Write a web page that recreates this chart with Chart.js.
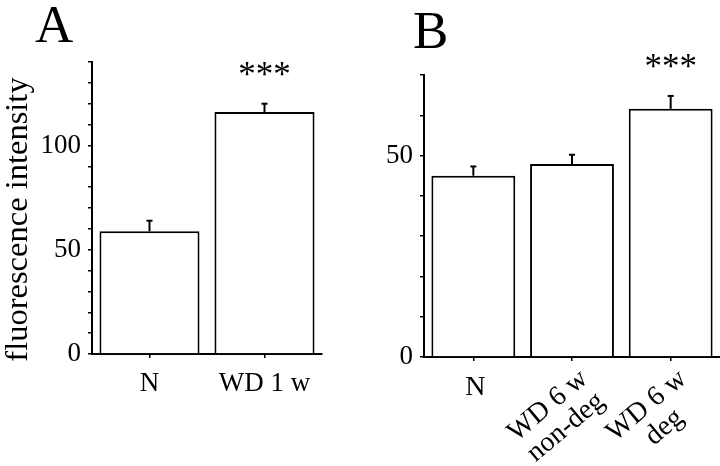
<!DOCTYPE html>
<html><head><meta charset="utf-8">
<script src="https://cdn.jsdelivr.net/npm/chart.js@4.4.1/dist/chart.umd.min.js"></script>
<style>
html,body{margin:0;padding:0;background:#fff;width:720px;height:466px;overflow:hidden}
canvas{position:absolute;top:0}
#cA{left:0}
#cB{left:360px}
</style></head>
<body>
<canvas id="cA" width="360" height="466"></canvas>
<canvas id="cB" width="360" height="466"></canvas>
<script>
// ---- data ----
const categoriesA = ['N', 'WD 1 w'];
const valuesA = [58.8, 116];
const errorsA = [5.1, 4];
const marksA = ['', '***'];
const yLabelsA = [0, 50, 100];
const yMaxA = 140;

const categoriesB = [['N'], ['WD 6 w', 'non-deg'], ['WD 6 w', 'deg']];
const valuesB = [45, 47.9, 61.6];
const errorsB = [2.3, 2.3, 3.2];
const marksB = ['', '', '***'];
const yLabelsB = [0, 50];
const yMaxB = 70;

const yTitle = 'fluorescence intensity';
const FONT = "'Liberation Serif', 'Times New Roman', serif";

function errorBarPlugin(errors, marks) {
  return {
    id: 'errbars',
    afterDatasetsDraw(chart) {
      const ctx = chart.ctx;
      const meta = chart.getDatasetMeta(0);
      const ys = chart.scales.y;
      const vals = chart.data.datasets[0].data;
      ctx.save();
      ctx.strokeStyle = '#000';
      ctx.fillStyle = '#000';
      meta.data.forEach((bar, i) => {
        const top = ys.getPixelForValue(vals[i] + errors[i]);
        ctx.lineWidth = 2;
        ctx.beginPath();
        ctx.moveTo(bar.x, bar.y);
        ctx.lineTo(bar.x, top);
        ctx.stroke();
        ctx.beginPath();
        ctx.moveTo(bar.x - 3, top);
        ctx.lineTo(bar.x + 3, top);
        ctx.stroke();
        if (marks[i]) {
          ctx.font = '35px ' + FONT;
          ctx.textAlign = 'center';
          ctx.textBaseline = 'alphabetic';
          ctx.fillText(marks[i], bar.x, top - 18);
        }
      });
      ctx.restore();
    }
  };
}

function decoPlugin(letter, lx, ly, drawTitle, customX) {
  return {
    id: 'deco',
    afterDraw(chart) {
      const ctx = chart.ctx;
      ctx.save();
      ctx.fillStyle = '#000';
      ctx.font = '53px ' + FONT;
      ctx.textAlign = 'left';
      ctx.textBaseline = 'alphabetic';
      ctx.fillText(letter, lx, ly);
      if (drawTitle) {
        ctx.font = '32.5px ' + FONT;
        ctx.translate(26.5, 219.5);
        ctx.rotate(-Math.PI / 2);
        ctx.textAlign = 'center';
        ctx.fillText(yTitle, 0, 0);
        ctx.setTransform(1, 0, 0, 1, 0, 0);
      }
      if (customX) {
        const xs = chart.scales.x;
        const base = chart.chartArea.bottom;
        ctx.font = '28px ' + FONT;
        chart.data.labels.forEach((lab, i) => {
          const x = xs.getPixelForValue(i);
          if (lab.length === 1) {
            ctx.textAlign = 'center';
            ctx.textBaseline = 'alphabetic';
            ctx.fillText(lab[0], x + 2, base + 38);
          } else {
            ctx.save();
            ctx.translate(x + 17, base + 24);
            ctx.rotate(-40 * Math.PI / 180);
            ctx.textBaseline = 'alphabetic';
            ctx.textAlign = 'right';
            ctx.fillText(lab[0], 0, 0);
            const w1 = ctx.measureText(lab[0]).width;
            ctx.textAlign = 'center';
            for (let k = 1; k < lab.length; k++) {
              ctx.fillText(lab[k], -w1 / 2, k * 28);
            }
            ctx.restore();
          }
        });
      }
      ctx.restore();
    }
  };
}

function makeOptions(yMax, yLabels, padding, yWidth, xHeight, showXTicks) {
  return {
    responsive: false,
    animation: false,
    devicePixelRatio: 1,
    layout: { padding: padding },
    plugins: { legend: { display: false }, tooltip: { enabled: false }, title: { display: false } },
    scales: {
      x: {
        type: 'category',
        offset: true,
        grid: { display: true, offset: false, drawOnChartArea: false, drawTicks: true, tickLength: 4, color: '#000', lineWidth: 1.5 },
        border: { display: true, color: '#000', width: 2 },
        ticks: { display: showXTicks, color: '#000', font: { family: FONT, size: 27 }, maxRotation: 0, minRotation: 0, padding: 10, autoSkip: false },
        afterFit(s) { s.height = xHeight; }
      },
      y: {
        min: 0, max: yMax,
        grid: { display: true, drawOnChartArea: false, drawTicks: true, tickLength: 4, color: '#000', lineWidth: 1.5 },
        border: { display: true, color: '#000', width: 2 },
        ticks: {
          stepSize: 10, maxTicksLimit: 100, autoSkip: false, color: '#000', padding: 7,
          font: { family: FONT, size: 27 },
          callback: (v) => yLabels.includes(v) ? String(v) : ''
        },
        afterFit(s) { s.width = yWidth; }
      }
    }
  };
}

new Chart(document.getElementById('cA'), {
  type: 'bar',
  data: {
    labels: categoriesA,
    datasets: [{ data: valuesA, backgroundColor: '#fff', borderColor: '#000', borderWidth: 2, barPercentage: 0.87, categoryPercentage: 1 }]
  },
  options: makeOptions(yMaxA, yLabelsA, { top: 62, right: 38, bottom: 0, left: 0 }, 92, 112, true),
  plugins: [errorBarPlugin(errorsA, marksA), decoPlugin('A', 35, 42, true, false)]
});

new Chart(document.getElementById('cB'), {
  type: 'bar',
  data: {
    labels: categoriesB,
    datasets: [{ data: valuesB, backgroundColor: '#fff', borderColor: '#000', borderWidth: 2, barPercentage: 0.85, categoryPercentage: 1 }]
  },
  options: makeOptions(yMaxB, yLabelsB, { top: 75, right: 0, bottom: 0, left: 0 }, 64, 109, false),
  plugins: [errorBarPlugin(errorsB, marksB), decoPlugin('B', 53, 48, false, true)]
});
</script>
</body></html>
